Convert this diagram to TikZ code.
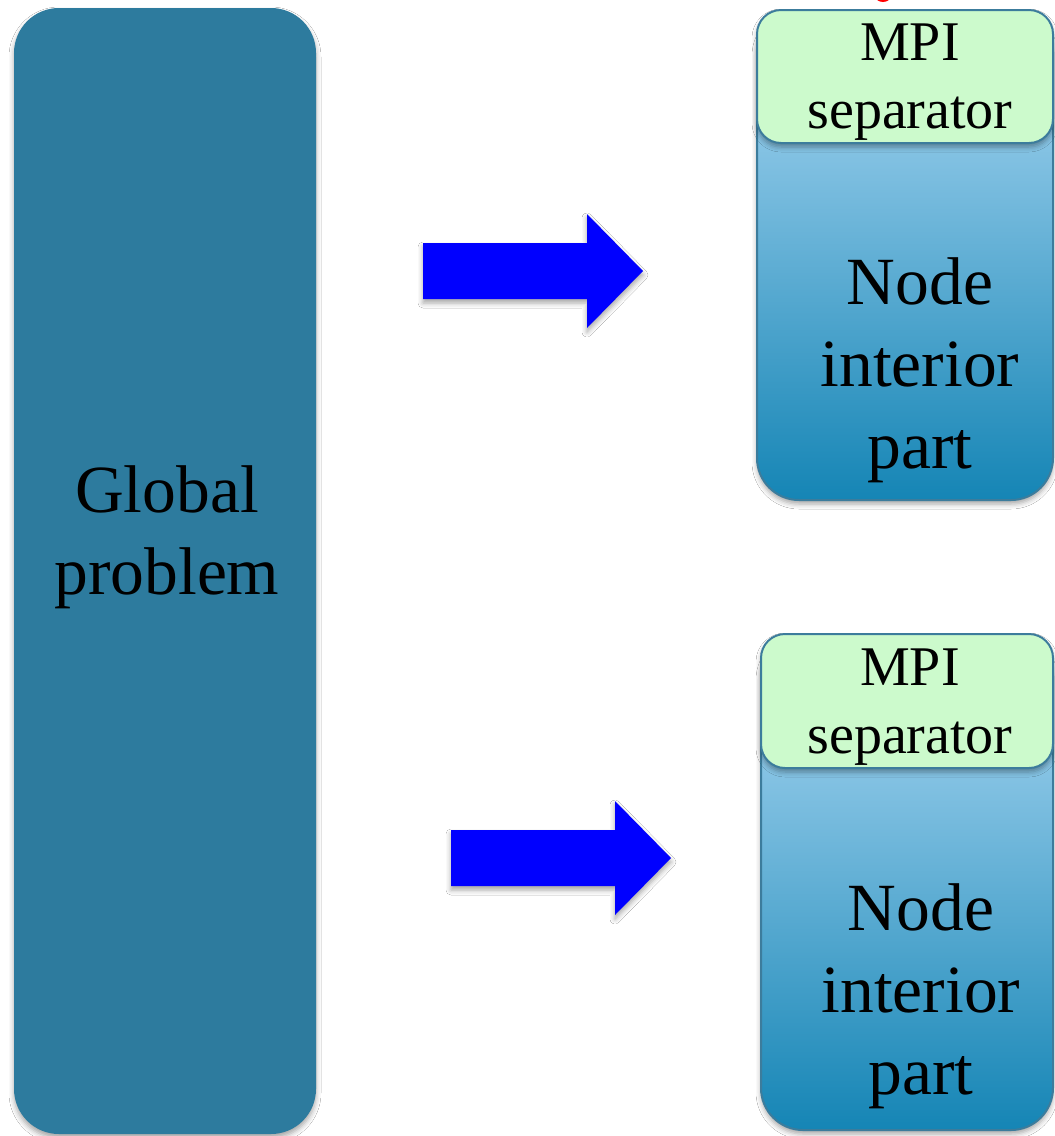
\documentclass[tikz,border=0pt]{standalone}
\usepackage{fontspec}
\setmainfont{Liberation Serif}
\usetikzlibrary{shadows.blur}
\definecolor{globalfill}{HTML}{2D7B9E}
\definecolor{sepfill}{HTML}{CCFACC}
\definecolor{boxedge}{HTML}{3C7C9C}
\definecolor{bodytop}{RGB}{175,218,245}
\definecolor{bodymid}{RGB}{130,194,232}
\definecolor{bodybot}{RGB}{21,133,181}
\definecolor{arrowblue}{HTML}{0000FF}
\tikzset{
  x=1pt, y=-1pt,
  softshadow/.style={blur shadow={shadow xshift=0pt, shadow yshift=-4pt, shadow blur radius=5pt, shadow opacity=35}},
  globalbox/.style={fill=globalfill, rounded corners=45pt, softshadow},
  bodybox/.style={draw=boxedge, line width=2pt, top color=bodytop, middle color=bodymid, bottom color=bodybot, rounded corners=42pt, softshadow},
  sepbox/.style={draw=boxedge, line width=2pt, fill=sepfill, rounded corners=24pt, softshadow},
  bigtext/.style={font=\fontsize{67.5}{82}\selectfont, align=center, inner sep=0pt},
  septext/.style={font=\fontsize{56}{68}\selectfont, align=center, inner sep=0pt},
  blockarrow/.style={fill=arrowblue, softshadow},
}
\begin{document}
\begin{tikzpicture}
\useasboundingbox (0,0) rectangle (1055,1136);
\fill[white] (0,0) rectangle (1055,1136);

% red glyph cut by the top edge
\fill[red] (883,-6) ellipse [x radius=9pt, y radius=8pt];

% global problem column
\path[globalbox] (14,8) rectangle (316,1134);
\node[bigtext] (global) at (167,537) {Global\\problem};

% upper node block
\path[bodybox] (757,10) rectangle (1053,500);
\path[sepbox] (757,10) rectangle (1053,143);
\node[septext] (sep1) at (910,82) {MPI\\separator};
\node[bigtext] (int1) at (920,370) {Node\\interior\\part};

% lower node block
\path[bodybox] (761,634) rectangle (1053,1130);
\path[sepbox] (761,634) rectangle (1053,768);
\node[septext] (sep2) at (910,707) {MPI\\separator};
\node[bigtext] (int2) at (921,996) {Node\\interior\\part};

% block arrows
\coordinate (a1) at (423,271);
\coordinate (a2) at (451,858);
\path[blockarrow] (a1) ++(0,-28) -- ++(164,0) -- ++(0,-29) -- ++(56,57)
  -- ++(-56,57) -- ++(0,-29) -- ++(-164,0) -- cycle;
\path[blockarrow] (a2) ++(0,-28) -- ++(164,0) -- ++(0,-29) -- ++(56,57)
  -- ++(-56,57) -- ++(0,-29) -- ++(-164,0) -- cycle;
\end{tikzpicture}
\end{document}
